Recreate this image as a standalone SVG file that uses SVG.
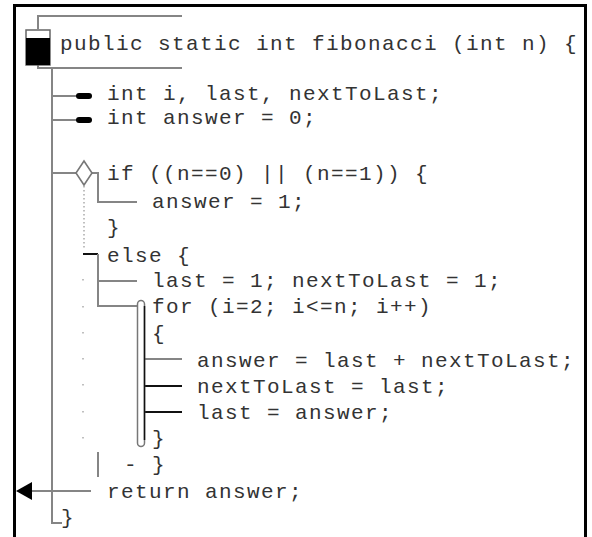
<svg xmlns="http://www.w3.org/2000/svg" width="592" height="537" viewBox="0 0 592 537">
<style>
text{font-family:"Courier New","Liberation Mono",monospace;font-size:21px;letter-spacing:1.4px;fill:#333;white-space:pre}
.g{stroke:#858585;stroke-width:2;fill:none}
.k{stroke:#111;stroke-width:2;fill:none}
.dot{stroke:#aaa;stroke-width:1.5;stroke-dasharray:1.5 2.5;fill:none}
</style>
<defs>
<marker id="ah" markerWidth="18" markerHeight="18" refX="0" refY="9" orient="auto" markerUnits="userSpaceOnUse">
<path d="M16,9 L0,0 L0,18 Z" fill="#000"/>
</marker>
</defs>
<rect x="0" y="0" width="592" height="537" fill="#fff"/>
<path d="M14.5,537 V5.5 H585.5 V537" fill="none" stroke="#000" stroke-width="3"/>

<g id="connectors">
  <path class="g" d="M38,29 V16 H182"/>
  <path class="g" d="M38,65 V68 H182"/>
  <path class="g" d="M52,68 V523 H62"/>
  <path class="g" d="M52,96 H78"/>
  <path class="g" d="M52,120 H78"/>
  <path class="g" d="M52,173 H76"/>
  <path class="g" d="M92,173 H98 V202 H137"/>
  <path class="dot" d="M84,186 V250"/>
  <path class="k" d="M83,254 H98"/>
  <path class="g" d="M98,254 V306 H137"/>
  <path class="g" d="M98,281 H137"/>
  <path class="dot" d="M83,279 V281 M83,306 V308 M83,332 V334 M83,358 V360 M83,384 V386 M83,411 V413 M83,437 V439"/>
  <path class="g" d="M145,359 H182"/>
  <path class="k" d="M145,386 H182"/>
  <path class="k" d="M145,412 H182"/>
  <path class="g" d="M98,452 V477"/>
  <path class="g" d="M91,491 H32" marker-end="url(#ah)"/>
</g>

<g id="n-method">
  <rect x="26" y="30" width="24" height="35" fill="#fff" stroke="#666" stroke-width="1.5"/>
  <rect x="26" y="38" width="24" height="27" fill="#000"/>
  <text x="60" y="50">public static int fibonacci (int n) {</text>
</g>
<g id="n-decl1">
  <rect x="76" y="93" width="16" height="6" rx="3" fill="#000"/>
  <text x="107" y="100">int i, last, nextToLast;</text>
</g>
<g id="n-decl2">
  <rect x="76" y="117" width="16" height="6" rx="3" fill="#000"/>
  <text x="107" y="124">int answer = 0;</text>
</g>
<g id="n-if">
  <path d="M84,161 L92,173 L84,185 L76,173 Z" fill="#fff" stroke="#777" stroke-width="1.6"/>
  <text x="107" y="180">if ((n==0) || (n==1)) {</text>
</g>
<g id="n-answer1">
  <text x="152" y="208">answer = 1;</text>
</g>
<g id="n-ifclose">
  <text x="107" y="234">}</text>
</g>
<g id="n-else">
  <text x="107" y="262">else {</text>
</g>
<g id="n-init">
  <text x="152" y="287">last = 1; nextToLast = 1;</text>
</g>
<g id="n-for">
  <rect x="137.5" y="300.5" width="7" height="146" rx="3.5" fill="#fff" stroke="#777" stroke-width="1.5"/>
  <path d="M144.5,306 V440" stroke="#111" stroke-width="1.5"/>
  <text x="152" y="313">for (i=2; i&lt;=n; i++)</text>
  <text x="152" y="340">{</text>
</g>
<g id="n-s1">
  <text x="197" y="367">answer = last + nextToLast;</text>
</g>
<g id="n-s2">
  <text x="197" y="393">nextToLast = last;</text>
</g>
<g id="n-s3">
  <text x="197" y="419">last = answer;</text>
</g>
<g id="n-forclose">
  <text x="152" y="445">}</text>
</g>
<g id="n-elseclose">
  <text x="124" y="471">- }</text>
</g>
<g id="n-return">
  <text x="107" y="498">return answer;</text>
</g>
<g id="n-end">
  <text x="61" y="524">}</text>
</g>
</svg>
